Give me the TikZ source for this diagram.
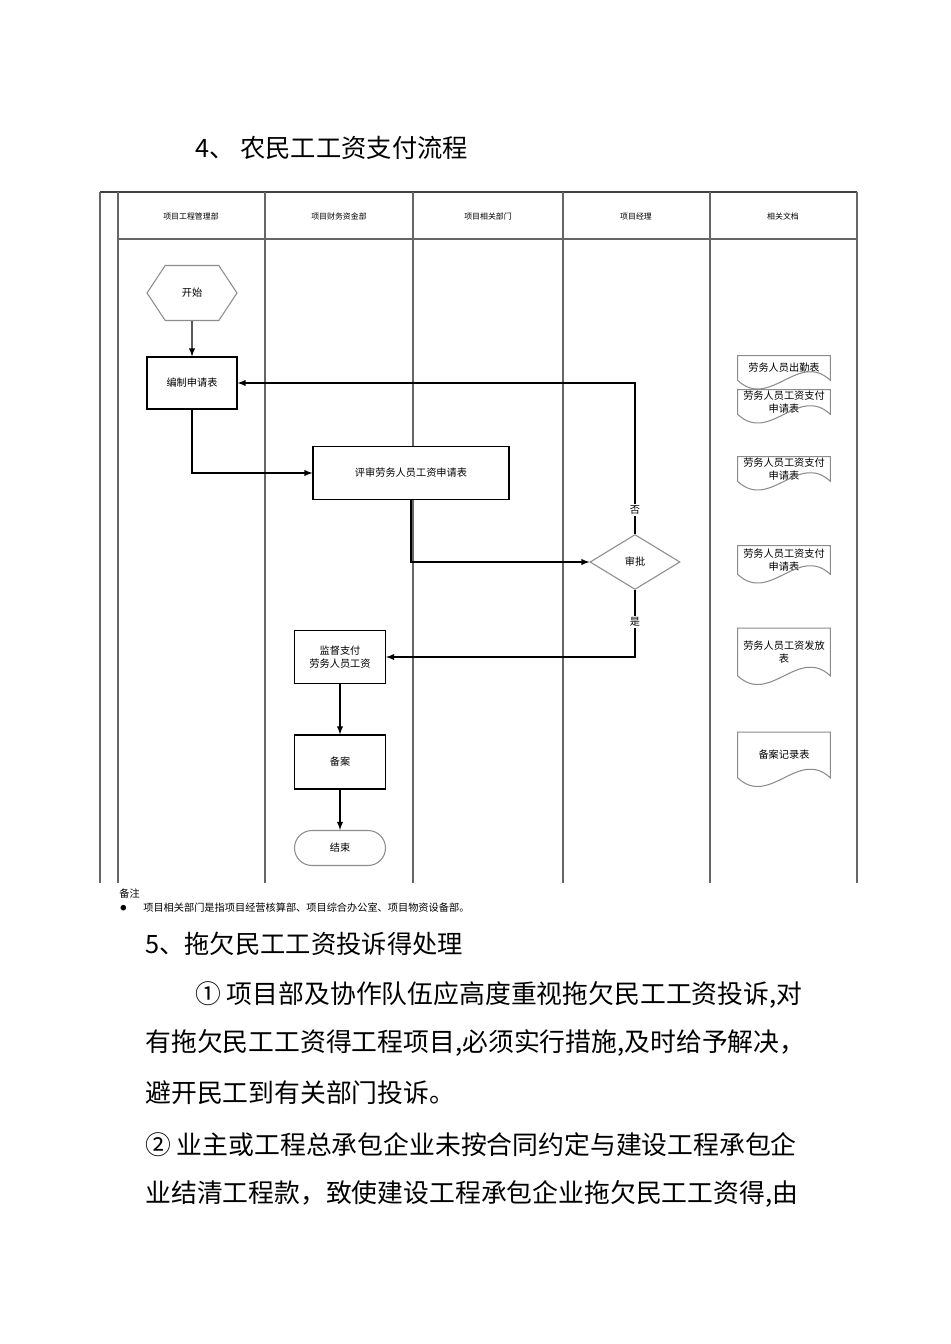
\documentclass[tikz,border=0pt]{standalone}
\usepackage{fontspec}
\setmainfont{Noto Sans CJK SC}
\usetikzlibrary{calc,shapes.geometric,shapes.symbols}

\tikzset{
  lane/.style={black!60, line width=0.7pt},
  lanehead/.style={font=\fontsize{4.5}{5.5}\selectfont},
  box/.style={draw, fill=white, line width=0.6pt, align=center, inner sep=1pt,
    font=\fontsize{5.8}{7.5}\selectfont},
  softbox/.style={box, draw=black!45},
  docbox/.style={align=center, inner sep=0pt, minimum width=1.84cm,
    font=\fontsize{5.8}{7.5}\selectfont},
  docline/.style={black!45, line width=0.6pt},
  flow/.style={line width=0.6pt, -latex},
  tag/.style={fill=white, inner sep=1pt, font=\fontsize{5.8}{7}\selectfont},
  notetxt/.style={anchor=west, inner sep=0pt, font=\fontsize{5.8}{7}\selectfont},
  body/.style={anchor=west, inner sep=0pt, font=\fontsize{14.7}{17}\selectfont}
}

\begin{document}
\begin{tikzpicture}[x=0.02cm, y=-0.02cm]

    \fill[white] (0,0) rectangle (950,1344);
    \useasboundingbox (0,0) rectangle (950,1344);

    % lanes
    \draw[black!75, line width=1.2pt] (100,192) -- (857,192);
    \draw[lane] (118,239) -- (857,239);
    \foreach \x in {100,118,857} \draw[lane] (\x,192) -- (\x,883);
    \foreach \x in {265,413,563,710} \draw[lane] (\x,192) -- (\x,883);

    \foreach \x/\t [count=\i] in {191/项目工程管理部, 339/项目财务资金部, 488/项目相关部门, 636/项目经理, 783/相关文档}
        \node[lanehead] (h\i) at (\x,216) {\t};

    % flow
    \node[softbox, signal, signal to=west and east, signal pointer angle=113,
        minimum width=1.8cm, minimum height=1.1cm] (start) at (192,293) {开始};
    \node[box, minimum width=1.8cm, minimum height=1.04cm] (draft) at (192,383) {编制申请表};
    \node[box, minimum width=3.92cm, minimum height=1.06cm] (review) at (411,473) {评审劳务人员工资申请表};
    \node[softbox, diamond, aspect=1.64, inner sep=0pt,
        minimum width=1.8cm, minimum height=1.1cm] (approve) at (635,562) {审批};
    \node[box, minimum width=1.82cm, minimum height=1.06cm] (pay) at (340,657) {监督支付\\劳务人员工资};
    \node[box, minimum width=1.82cm, minimum height=1.08cm] (file) at (340,762) {备案};
    \node[softbox, rounded corners=0.35cm, minimum width=1.82cm, minimum height=0.7cm] (stop) at (340,848) {结束};

    \draw[flow] (start) -- (draft);
    \draw[flow] (draft.south) |- (review.west);
    \draw[flow] (review.south) |- (approve.west);
    \draw[flow] (approve.north) |- node[tag, pos=0.08] {否} (draft.east);
    \draw[flow] (approve.south) |- node[tag, pos=0.24] {是} (pay.east);
    \draw[flow] (pay) -- (file);
    \draw[flow] (file) -- (stop);

    % documents
    \node[docbox, minimum height=0.48cm] (d1) at (784,368) {劳务人员出勤表};
    \node[docbox, minimum height=0.48cm] (d2) at (784,402) {劳务人员工资支付\\申请表};
    \node[docbox, minimum height=0.48cm] (d3) at (784,469) {劳务人员工资支付\\申请表};
    \node[docbox, minimum height=0.56cm] (d4) at (784,560) {劳务人员工资支付\\申请表};
    \node[docbox, minimum height=0.94cm] (d5) at (784,652) {劳务人员工资发放\\表};
    \node[docbox, minimum height=0.9cm] (d6) at (784,755) {备案记录表};
    \foreach \n in {1,...,6}
        \draw[docline] (d\n.north west) -- (d\n.north east) -- (d\n.south east)
            .. controls ($(d\n.south east)+(-32,-30)$) and ($(d\n.south west)+(32,30)$) .. (d\n.south west) -- cycle;

    % note
    \node[notetxt] (note) at (119,894) {备注};
    \node[notetxt, font=\fontsize{3.5}{4}\selectfont] (dot) at (120,908) {●};
    \node[notetxt] (notetext) at (143,908)
        {项目相关部门是指项目经营核算部、项目综合办公室、项目物资设备部。};

    % text
    \node[body, font=\fontsize{14.4}{17}\selectfont] (t0) at (195,148) {4、 农民工工资支付流程};
    \node[body, font=\fontsize{14.4}{17}\selectfont] (t1) at (145,944) {5、拖欠民工工资投诉得处理};
    \node[body] (t2) at (195,995) {① 项目部及协作队伍应高度重视拖欠民工工资投诉,对};
    \node[body] (t3) at (145,1043) {有拖欠民工工资得工程项目,必须实行措施,及时给予解决，};
    \node[body] (t4) at (145,1093) {避开民工到有关部门投诉。};
    \node[body] (t5) at (145,1145) {② 业主或工程总承包企业未按合同约定与建设工程承包企};
    \node[body] (t6) at (145,1194) {业结清工程款，致使建设工程承包企业拖欠民工工资得,由};

\end{tikzpicture}
\end{document}
